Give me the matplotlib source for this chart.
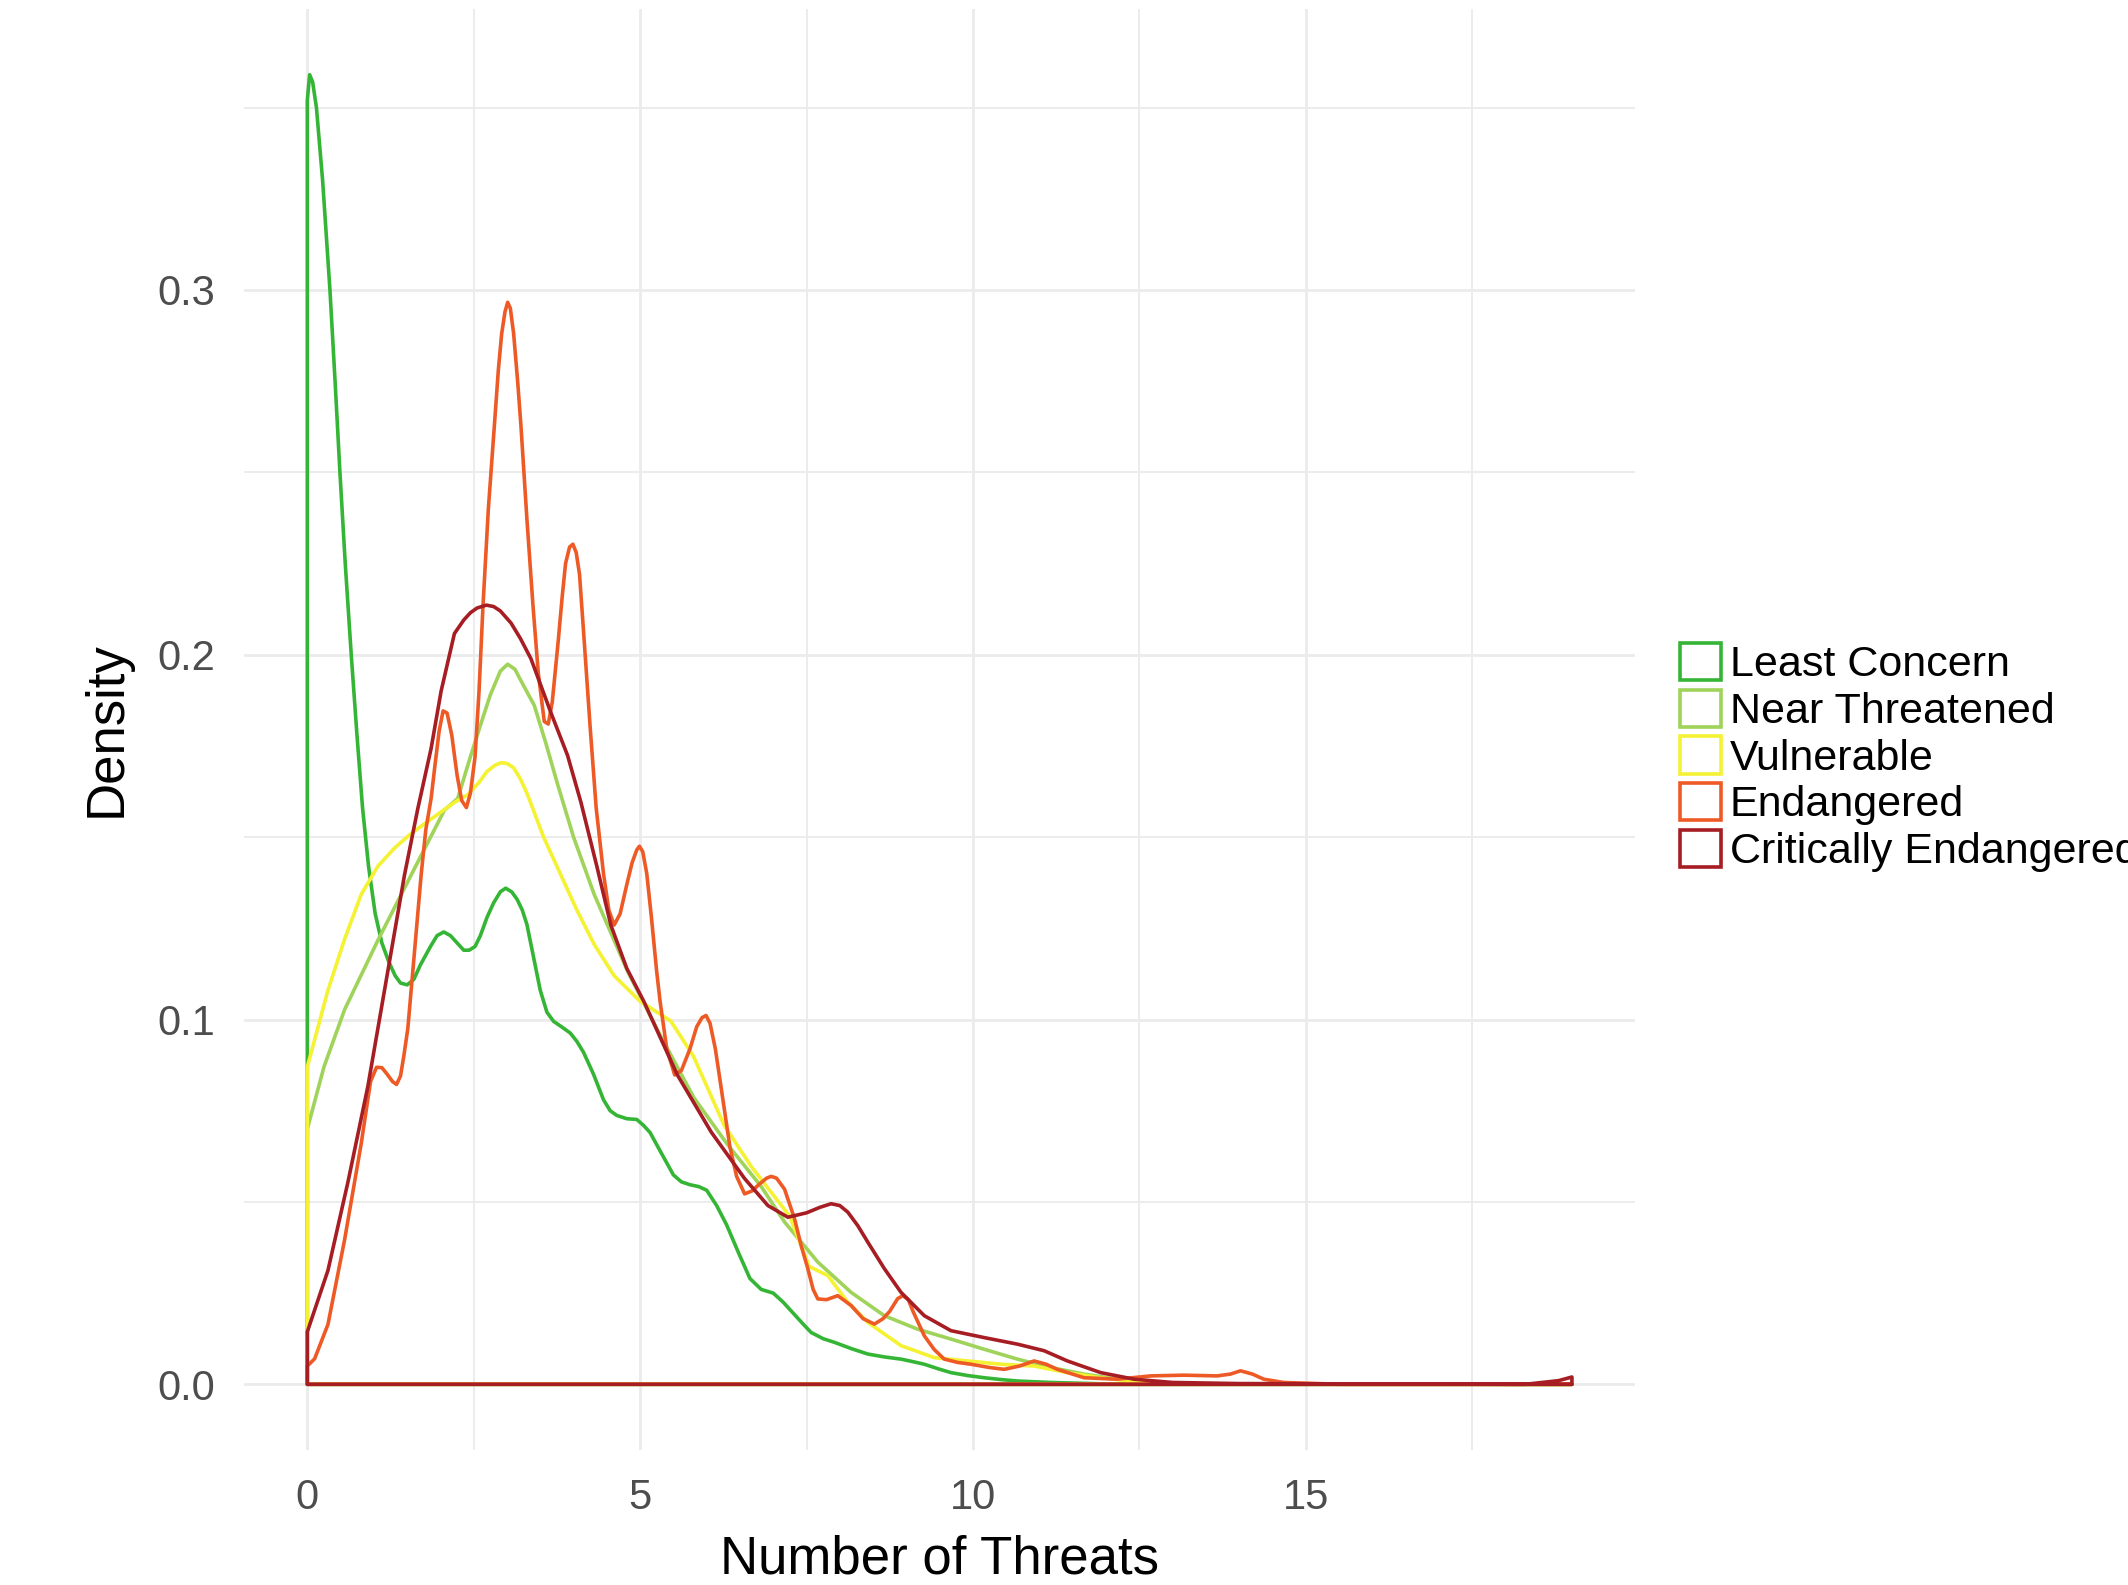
import matplotlib
matplotlib.use('Agg')
import matplotlib.pyplot as plt
from matplotlib.patches import Patch
from matplotlib.ticker import MultipleLocator, FormatStrFormatter

plt.rcParams['font.family'] = ['Liberation Sans', 'DejaVu Sans']

# density curves (x = number of threats, y = density)
lc_x = [0.0, 0.035, 0.08, 0.137, 0.23, 0.34, 0.42, 0.49, 0.57, 0.66, 0.75, 0.83, 0.92, 1.02, 1.12,
        1.22, 1.32, 1.4, 1.5, 1.6, 1.7, 1.85, 1.95, 2.05, 2.15, 2.25, 2.35, 2.43, 2.52, 2.6, 2.7,
        2.8, 2.9, 2.98, 3.07, 3.15, 3.23, 3.3, 3.4, 3.5, 3.6, 3.7, 3.82, 3.95, 4.05, 4.15, 4.3,
        4.45, 4.55, 4.65, 4.8, 4.95, 5.05, 5.15, 5.3, 5.5, 5.62, 5.75, 5.88, 6.0, 6.15, 6.3, 6.48,
        6.65, 6.82, 7.0, 7.15, 7.3, 7.45, 7.57, 7.75, 7.92, 8.17, 8.42, 8.67, 8.92, 9.1, 9.27,
        9.47, 9.67, 9.92, 10.17, 10.42, 10.67, 11.17, 12.0, 19.0]
lc_y = [0.352, 0.359, 0.357, 0.350, 0.330, 0.300, 0.274, 0.250, 0.225, 0.200, 0.177, 0.158, 0.142,
        0.129, 0.121, 0.116, 0.112, 0.110, 0.1095, 0.111, 0.115, 0.120, 0.123, 0.124, 0.123,
        0.121, 0.119, 0.119, 0.120, 0.123, 0.128, 0.132, 0.135, 0.136, 0.135, 0.133, 0.130,
        0.126, 0.117, 0.108, 0.102, 0.0995, 0.098, 0.0963, 0.094, 0.091, 0.085, 0.078, 0.075,
        0.0737, 0.0728, 0.0726, 0.071, 0.069, 0.064, 0.0574, 0.0555, 0.0547, 0.0542, 0.0532,
        0.049, 0.0437, 0.036, 0.029, 0.026, 0.025, 0.0225, 0.0195, 0.0165, 0.0142, 0.0125,
        0.0115, 0.0098, 0.0083, 0.0075, 0.0069, 0.0062, 0.0055, 0.0043, 0.0032, 0.0024, 0.0018,
        0.0013, 0.0009, 0.0005, 0.0001, 0.0]

nt_x = [0.0, 0.25, 0.56, 1.06, 1.56, 2.06, 2.26, 2.45, 2.61, 2.75, 2.9, 3.01, 3.12, 3.25, 3.41,
        3.58, 3.76, 4.0, 4.31, 4.81, 5.31, 5.81, 6.31, 6.82, 7.17, 7.67, 8.17, 8.67, 9.17, 9.67,
        10.17, 10.67, 11.17, 11.67, 12.17, 12.67, 13.5, 19.0]
nt_y = [0.070, 0.087, 0.1027, 0.1217, 0.1396, 0.1574, 0.1606, 0.172, 0.1812, 0.189, 0.1955,
        0.1974, 0.196, 0.1915, 0.1861, 0.176, 0.1645, 0.150, 0.1343, 0.1133, 0.0954, 0.0785,
        0.0658, 0.0542, 0.0445, 0.0335, 0.0252, 0.0188, 0.0151, 0.0124, 0.0096, 0.0069, 0.0046,
        0.0028, 0.0014, 0.0005, 0.0001, 0.0]

vu_x = [0.0, 0.31, 0.56, 0.81, 1.06, 1.31, 1.56, 1.81, 2.21, 2.41, 2.58, 2.7, 2.82, 2.91, 3.0,
        3.1, 3.2, 3.31, 3.55, 3.81, 4.05, 4.31, 4.61, 5.0, 5.46, 5.8, 6.26, 6.67, 7.25, 7.54,
        7.82, 8.12, 8.42, 8.92, 9.42, 9.92, 10.42, 10.92, 11.42, 11.92, 12.5, 13.5, 19.0]
vu_y = [0.087, 0.108, 0.122, 0.1343, 0.142, 0.147, 0.151, 0.1543, 0.1595, 0.1616, 0.165, 0.168,
        0.1697, 0.1704, 0.1702, 0.169, 0.166, 0.1616, 0.150, 0.1396, 0.130, 0.1206, 0.112, 0.105,
        0.0996, 0.090, 0.0711, 0.0597, 0.046, 0.0323, 0.0298, 0.0225, 0.0170, 0.0106, 0.0073,
        0.0064, 0.0055, 0.005, 0.0032, 0.0018, 0.0006, 0.0001, 0.0]

en_x = [0.0, 0.11, 0.31, 0.56, 0.81, 0.95, 1.04, 1.12, 1.2, 1.28, 1.34, 1.4, 1.45, 1.51, 1.61,
        1.71, 1.78, 1.86, 1.92, 1.98, 2.04, 2.1, 2.17, 2.25, 2.32, 2.39, 2.45, 2.52, 2.58, 2.64,
        2.72, 2.81, 2.87, 2.92, 2.97, 3.01, 3.05, 3.1, 3.16, 3.21, 3.3, 3.39, 3.47, 3.56, 3.62,
        3.68, 3.77, 3.83, 3.88, 3.94, 3.99, 4.04, 4.09, 4.16, 4.25, 4.34, 4.45, 4.53, 4.61, 4.7,
        4.8, 4.88, 4.95, 4.99, 5.04, 5.1, 5.17, 5.25, 5.3, 5.4, 5.52, 5.62, 5.75, 5.85, 5.93,
        5.99, 6.05, 6.13, 6.22, 6.35, 6.45, 6.57, 6.68, 6.8, 6.9, 6.97, 7.05, 7.17, 7.32, 7.42,
        7.52, 7.6, 7.67, 7.8, 7.97, 8.17, 8.35, 8.52, 8.65, 8.75, 8.87, 8.95, 9.03, 9.1, 9.27,
        9.42, 9.57, 9.77, 9.97, 10.25, 10.47, 10.7, 10.92, 11.1, 11.27, 11.67, 12.17, 12.67,
        13.17, 13.67, 13.87, 14.02, 14.2, 14.37, 14.67, 15.5, 19.0]
en_y = [0.005, 0.007, 0.0164, 0.0396, 0.066, 0.083, 0.0869, 0.0868, 0.085, 0.083, 0.0822, 0.0845,
        0.090, 0.0975, 0.1185, 0.1396, 0.152, 0.1606, 0.170, 0.179, 0.1846, 0.184, 0.178, 0.167,
        0.160, 0.1581, 0.162, 0.172, 0.190, 0.2136, 0.240, 0.2627, 0.278, 0.288, 0.294, 0.2966,
        0.295, 0.288, 0.275, 0.2627, 0.237, 0.2136, 0.195, 0.1817, 0.181, 0.187, 0.2038, 0.216,
        0.225, 0.2295, 0.2303, 0.228, 0.222, 0.2038, 0.180, 0.158, 0.140, 0.130, 0.1259, 0.129,
        0.137, 0.143, 0.1465, 0.1475, 0.146, 0.140, 0.128, 0.113, 0.105, 0.092, 0.0848, 0.086,
        0.092, 0.098, 0.1005, 0.1011, 0.099, 0.092, 0.081, 0.065, 0.057, 0.0522, 0.053, 0.055,
        0.0565, 0.057, 0.0565, 0.0535, 0.0454, 0.038, 0.0317, 0.026, 0.0234, 0.0232, 0.0243,
        0.0216, 0.018, 0.0165, 0.018, 0.020, 0.0235, 0.0243, 0.0232, 0.020, 0.0133, 0.0095,
        0.0069, 0.006, 0.0055, 0.0046, 0.0041, 0.005, 0.0064, 0.0055, 0.0041, 0.0018, 0.0014,
        0.0023, 0.0025, 0.0023, 0.0028, 0.0037, 0.0028, 0.0014, 0.0005, 0.0, 0.0]

cr_x = [0.0, 0.31, 0.61, 0.91, 1.21, 1.46, 1.66, 1.86, 2.01, 2.21, 2.35, 2.45, 2.55, 2.69, 2.8,
        2.9, 3.06, 3.2, 3.36, 3.66, 3.91, 4.11, 4.35, 4.56, 4.8, 5.06, 5.56, 6.07, 6.57, 6.92,
        7.22, 7.5, 7.7, 7.87, 8.0, 8.12, 8.27, 8.42, 8.67, 8.92, 9.27, 9.67, 10.17, 10.67, 11.07,
        11.42, 11.92, 12.42, 13.0, 14.0, 18.3, 18.8, 19.0]
cr_y = [0.0144, 0.0312, 0.0554, 0.0817, 0.1133, 0.1396, 0.1578, 0.1743, 0.190, 0.2058, 0.2095,
        0.2115, 0.2128, 0.2136, 0.2132, 0.212, 0.2087, 0.2045, 0.1989, 0.1841, 0.1724, 0.1596,
        0.142, 0.1259, 0.114, 0.1048, 0.0848, 0.0691, 0.0564, 0.049, 0.0458, 0.047, 0.0485,
        0.0495, 0.049, 0.0472, 0.0435, 0.039, 0.0317, 0.0252, 0.0188, 0.0147, 0.0128, 0.011,
        0.0092, 0.0064, 0.0032, 0.0014, 0.0005, 0.0002, 0.0, 0.001, 0.002]

labels = ['Least Concern', 'Near Threatened', 'Vulnerable', 'Endangered', 'Critically Endangered']
colors = ['#35B535', '#9FD35A', '#F4F232', '#EE5A26', '#A61E24']
series = [(lc_x, lc_y), (nt_x, nt_y), (vu_x, vu_y), (en_x, en_y), (cr_x, cr_y)]

fig = plt.figure(figsize=(21.28, 15.85), dpi=100)
ax = fig.add_axes([0.1147, 0.0852, 0.6537, 0.9091])

for (xs, ys), c in zip(series, colors):
    # outline of the density polygon, baseline included (like geom_density)
    ax.fill_between(xs, 0, ys, facecolor='none', edgecolor=c, linewidth=2.6,
                    joinstyle='round')

ax.set_xlim(-0.95, 19.95)
ax.set_ylim(-0.018, 0.377)
ax.xaxis.set_major_locator(MultipleLocator(5))
ax.xaxis.set_minor_locator(MultipleLocator(2.5))
ax.yaxis.set_major_locator(MultipleLocator(0.1))
ax.yaxis.set_minor_locator(MultipleLocator(0.05))
ax.yaxis.set_major_formatter(FormatStrFormatter('%.1f'))
ax.grid(which='major', color='#EBEBEB', linewidth=2.0)
ax.grid(which='minor', color='#EBEBEB', linewidth=1.3)
ax.set_axisbelow(True)
for s in ax.spines.values():
    s.set_visible(False)
ax.tick_params(which='both', length=0)
ax.tick_params(axis='x', labelsize=30, labelcolor='#4D4D4D', pad=20)
ax.tick_params(axis='y', labelsize=30, labelcolor='#4D4D4D', pad=21)

ax.set_xlabel('Number of Threats', fontsize=38, labelpad=12)
ax.set_ylabel('Density', fontsize=38, labelpad=18)

handles = [Patch(facecolor='none', edgecolor=c, linewidth=2.6) for c in colors]
fig.legend(handles, labels, loc='center left', bbox_to_anchor=(0.7895, 0.522),
           frameon=False, fontsize=31, handlelength=0.95, handleheight=0.95,
           handletextpad=0.2, labelspacing=0.1, borderpad=0, borderaxespad=0)

fig.savefig('out.png', dpi=100)
